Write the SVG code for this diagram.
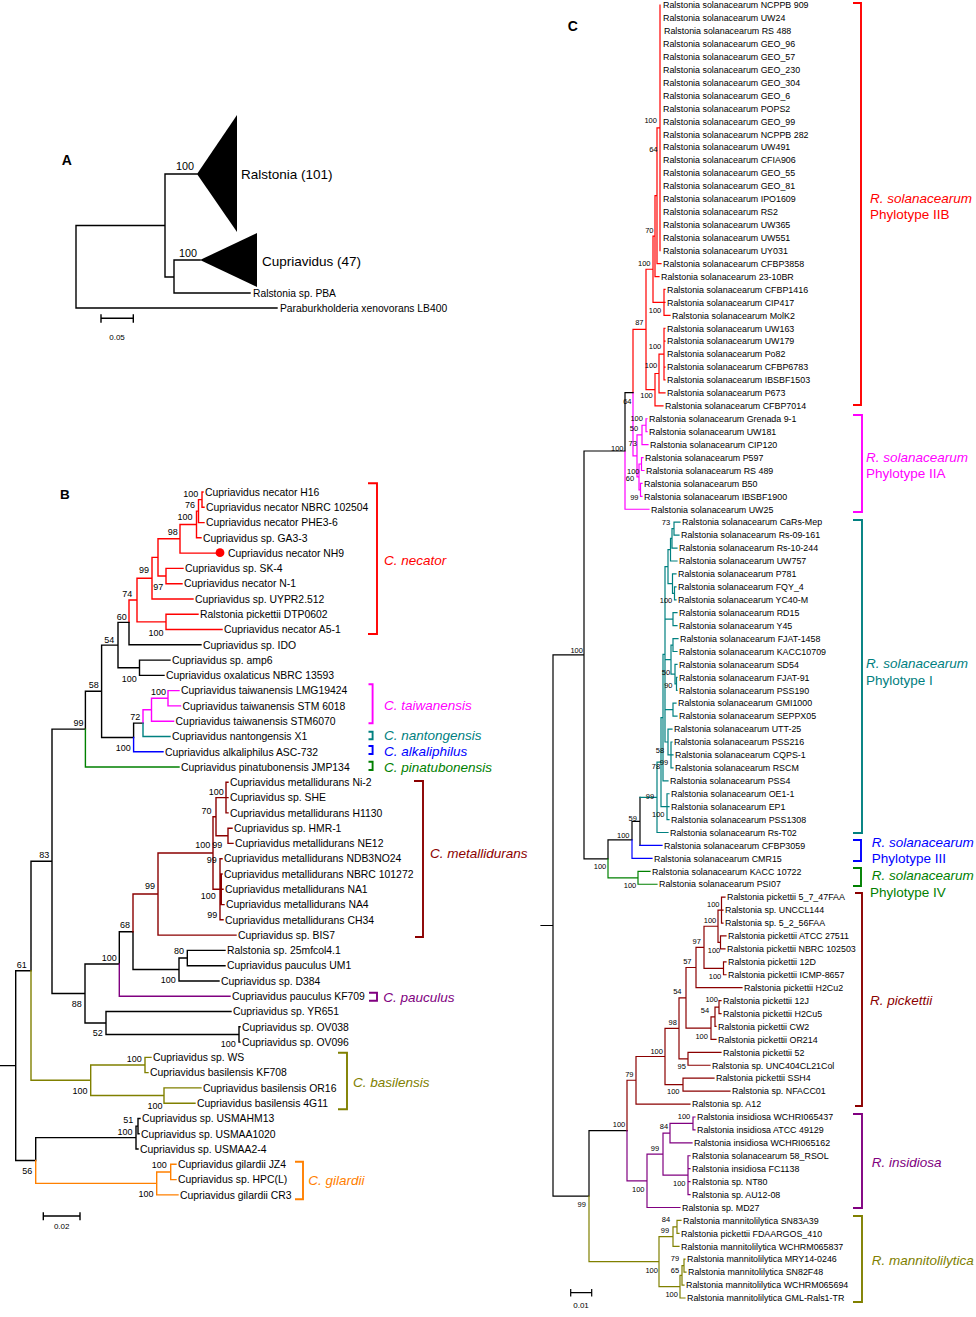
<svg xmlns="http://www.w3.org/2000/svg" width="976" height="1317" viewBox="0 0 976 1317">
<style>
text{font-family:"Liberation Sans",Arial,sans-serif;fill:#000}
.lb text{font-size:10.4px}
.lc text{font-size:8.9px}
.sb text{font-size:9px;text-anchor:middle}
.sc text{font-size:7.5px;text-anchor:middle}
.cl{font-size:13.5px;font-style:italic}
.cc{font-size:13.5px}
.pl{font-size:14px;font-weight:bold}
.e{fill:none;stroke-linecap:square}
.wa{stroke-width:1.4}
.wb{stroke-width:1.4}
.wc{stroke-width:1.2}
.br{fill:none;stroke-width:1.9}
.k{stroke:#000}.r{stroke:#f00}.m{stroke:#f0f}.t{stroke:#008080}.u{stroke:#00f}.g{stroke:#008000}.d{stroke:#8b0000}.p{stroke:#800080}.o{stroke:#808000}.n{stroke:#ff8000}
</style>
<rect width="976" height="1317" fill="#fff"/>

<!-- ================= PANEL A ================= -->
<text class="pl" x="61.7" y="165">A</text>
<g id="connectors">
<g id="connA" class="e wa k">
<path d="M76 225.5V308M76 225.5H165M165 174V277M165 174H197M165 277H174M174 260V293M174 260H200M174 293H250M76 308H277"/>
</g>
<g id="connB">
<path class="e wb r" d="M202 492V507.3M202 492H203M202 507.3H204M198.5 499.65V522.6M198.5 499.65H202M198.5 522.6H204M196.5 511.1V537.8M196.5 511.1H198.5M196.5 537.8H201M180 524.45V553.1M180 524.45H196.5M180 553.1H216M166 568.4V583.7M166 568.4H183M166 583.7H182M158 538.8V576.05M158 538.8H180M158 576.05H166M152 557.4V599M152 557.4H158M152 599H193M166 614.2V629.5M166 614.2H198M166 629.5H222M137 578.2V621.85M137 578.2H152M137 621.85H166M129 600V622.4M129 600H137"/>
<path class="e wb k" d="M129 622.4V644.8M129 644.8H201M118 622.4V667.75M118 622.4H129M118 667.75H139.5M139.5 660.1V675.4M139.5 660.1H170M139.5 675.4H164M133.6 723.1V737.45M133.6 723.1H143M101.6 645.1V737.45M101.6 645.1H118M101.6 737.45H133.6M85.4 691.3V729.15M85.4 691.3H101.6M133 931.8V969.5M133 969.5H179M187.3 950.4V965.7M187.3 950.4H225M187.3 965.7H225M179 958.05V981M179 958.05H187.3M179 981H219M119.3 931.8V964M119.3 931.8H133M239 1026.8V1042.1M239 1026.8H240M239 1042.1H240M106 1011.5V1034.45M106 1011.5H231M106 1034.45H239M85 964V1023M85 964H119.3M85 1023H106M52 729.15V993.5M52 729.15H85.4M52 993.5H85M31 861.3V970.8M31 861.3H52M138 1118.5V1133.8M138 1118.5H140M138 1133.8H139M136 1126.15V1149M136 1126.15H138M136 1149H138M35.7 1137.6V1160.5M35.7 1137.6H136M15.7 970.8V1160.5M15.7 970.8H31M15.7 1160.5H35.7M0 1065.65H15.7"/>
<path class="e wb m" d="M168 690.6V705.9M168 690.6H179M168 705.9H180.5M151.5 698.25V721.2M151.5 698.25H168M151.5 721.2H173.6M143 709.7V723.1M143 709.7H151.5"/>
<path class="e wb t" d="M143 723.1V736.5M143 736.5H170"/>
<path class="e wb u" d="M133.6 737.45V751.8M133.6 751.8H163"/>
<path class="e wb g" d="M85.4 729.15V767M85.4 767H179"/>
<path class="e wb d" d="M226 782.3V812.9M226 782.3H228M226 797.6H228M226 812.9H228M228 828.2V843.4M228 828.2H232M228 843.4H233M216 797.6V835.8M216 797.6H226M216 835.8H228M220 858.7V919.8M221.3 874V904.6M220 858.7H222M220 874H222M220 889.3H223M220 904.6H224M220 919.8H223M213 816.7V889.3M213 816.7H216M213 889.3H220M158 853V935.1M158 853H213M158 935.1H236M133 894.05V931.8M133 894.05H158"/>
<path class="e wb p" d="M119.3 964V996.2M119.3 996.2H230"/>
<path class="e wb o" d="M145 1057.4V1072.6M145 1057.4H151M145 1072.6H148M164 1087.9V1103.2M164 1087.9H201M164 1103.2H195M90.7 1065V1095.55M90.7 1065H145M90.7 1095.55H164M31 970.8V1080.3M31 1080.3H90.7"/>
<path class="e wb n" d="M170.7 1164.3V1179.6M170.7 1164.3H176M170.7 1179.6H176M156.7 1171.95V1194.9M156.7 1171.95H170.7M156.7 1194.9H178M35.7 1160.5V1183.4M35.7 1183.4H156.7"/>
</g>
<g id="connC">
<path class="e wc r" d="M660 5V250.67M657 127.84V263.6M657 127.84H660M657 263.6H661M655 195.72V276.53M655 195.72H657M655 276.53H659M664 289.46V315.32M664 289.46H665M664 302.39H665M664 315.32H670M653 236.13V302.39M653 236.13H655M653 302.39H664M664 328.25V379.97M664 328.25H665M664 341.18H665M664 367.04H665M664 379.97H665M659 354.11V392.9M659 354.11H664M659 392.9H665M655 373.5V405.83M655 373.5H659M655 405.83H663M646 269.26V389.67M646 269.26H653M646 389.67H655M633 329.47V392.7M633 329.47H646"/>
<path class="e wc m" d="M646 418.76V431.69M646 418.76H647M646 431.69H647M642 425.23V444.62M642 425.23H646M642 444.62H648M641.5 457.55V470.48M641.5 457.55H643M641.5 470.48H644M640.5 483.41V496.34M640.5 483.41H642M640.5 496.34H642M639 464.02V489.88M639 464.02H641.5M639 489.88H640.5M637 434.93V476.95M637 434.93H642M637 476.95H639M633 392.7V455.94M633 455.94H637M625 450.99V509.27M625 509.27H649"/>
<path class="e wc k" d="M625 392.7V450.99M625 392.7H633M640 797.31V845.45M632 821.38V839.88M632 821.38H640M608 839.88V858.83M608 839.88H632M584 450.99V858.83M584 450.99H625M584 858.83H608M589 1130.55V1196.1M589 1130.55H627M553 654.91V1196.1M553 654.91H584M553 1196.1H589M541 925.5H553"/>
<path class="e wc t" d="M674 522.2V535.13M674 522.2H680M674 535.13H679M672 528.67V548.06M672 528.67H674M672 548.06H677M670.5 538.36V560.99M670.5 538.36H672M670.5 560.99H677M674.5 586.85V599.78M674.5 586.85H676M674.5 599.78H676M672.5 573.92V593.32M672.5 573.92H676M672.5 593.32H674.5M668 549.68V583.62M668 549.68H670.5M668 583.62H672.5M673 612.71V625.64M673 612.71H677M673 625.64H677M676.5 677.36V690.29M676.5 677.36H677M676.5 690.29H677M675 664.43V683.83M675 664.43H677M675 683.83H676.5M673 638.57V651.5M673 638.57H678M673 651.5H677M671 645.04V674.13M671 645.04H673M671 674.13H675M673 703.22V716.15M673 703.22H676M673 716.15H677M671 742.01V767.87M671 742.01H672M671 754.94H673M671 767.87H673M668 729.08V754.94M668 729.08H672M668 754.94H671M665 566.65V742.01M665 566.65H668M665 619.18H673M665 659.59H671M665 709.69H673M665 742.01H668M667 793.73V819.59M667 793.73H669M667 806.66H669M667 819.59H669M663 654.33V780.8M663 654.33H665M663 780.8H668M661 717.57V806.66M661 717.57H663M661 806.66H667M657 762.1V832.52M657 762.1H661M657 832.52H668M640 797.31H657"/>
<path class="e wc u" d="M640 845.45H662M632 839.88V858.38M632 858.38H652"/>
<path class="e wc g" d="M608 858.83V877.78M608 877.78H638M638 871.31V884.24M638 871.31H650M638 884.24H657"/>
<path class="e wc d" d="M721.5 897.17V923.03M721.5 897.17H725M721.5 910.1H723M721.5 923.03H723M720.5 935.96V948.89M720.5 935.96H726M720.5 948.89H725M718 910.1V942.43M718 910.1H721.5M718 942.43H720.5M723.5 961.82V974.75M723.5 961.82H726M723.5 974.75H726M704 926.27V968.29M704 926.27H718M704 968.29H723.5M696 947.28V987.68M696 947.28H704M696 987.68H742M719 1000.61V1013.54M719 1000.61H721M719 1013.54H721M715 1007.08V1026.47M715 1007.08H719M715 1026.47H716M711 1016.78V1039.4M711 1016.78H715M711 1039.4H716M686 967.48V1028.09M686 967.48H696M686 1028.09H711M688 1052.33V1065.26M688 1052.33H721M688 1065.26H710M679 997.79V1058.8M679 997.79H686M679 1058.8H688M683 1078.19V1091.12M683 1078.19H714M683 1091.12H730M665 1028.3V1084.66M665 1028.3H679M665 1084.66H683M636 1056.48V1104.05M636 1056.48H665M636 1104.05H690M627 1080.27V1130.55M627 1080.27H636"/>
<path class="e wc p" d="M693 1116.98V1129.91M693 1116.98H695M693 1129.91H695M670 1123.45V1142.84M670 1123.45H693M670 1142.84H692M688 1155.77V1194.56M688 1155.77H690M688 1168.7H690M688 1181.63H690M688 1194.56H690M663 1133.15V1175.17M663 1133.15H670M663 1175.17H688M647 1154.16V1207.49M647 1154.16H663M647 1207.49H680M627 1130.55V1180.83M627 1180.83H647"/>
<path class="e wc o" d="M677 1220.42V1233.35M677 1220.42H681M677 1233.35H679M673 1226.89V1246.28M673 1226.89H677M673 1246.28H679M684 1259.21V1272.14M684 1259.21H685M684 1272.14H686M682 1265.68V1285.07M682 1265.68H684M682 1285.07H684M680 1275.38V1298M680 1275.38H682M680 1298H685M659 1236.59V1286.69M659 1236.59H673M659 1286.69H680M589 1196.1V1261.64M589 1261.64H659"/>
</g>
</g>

<!-- Panel A nodes -->
<g id="A-ralstonia"><polygon points="197,174 237,115 237,232" fill="#000"/><text x="241" y="178.5" style="font-size:13.5px">Ralstonia (101)</text></g>
<g id="A-cupriavidus"><polygon points="200,260 257,233 257,287" fill="#000"/><text x="262" y="265.7" style="font-size:13.5px">Cupriavidus (47)</text></g>
<g id="A-pba"><text x="253" y="296.7" style="font-size:10.3px">Ralstonia sp. PBA</text></g>
<g id="A-lb400"><text x="280" y="311.7" style="font-size:10.3px">Paraburkholderia xenovorans LB400</text></g>
<g id="A-support" style="font-size:10.8px;text-anchor:middle"><text x="185" y="170">100</text><text x="188" y="257">100</text></g>
<g id="A-scale"><path class="e wb k" d="M101 318.3H133.3M101 315V322M133.3 315V322"/><text x="117" y="340" style="font-size:8px;text-anchor:middle">0.05</text></g>

<!-- ================= PANEL B ================= -->
<text class="pl" x="60" y="499" style="font-size:13.5px">B</text>
<circle id="B-dot" cx="220" cy="552.7" r="4.4" fill="#f00"/>
<g class="lb">
<g id="b0"><text x="205" y="495.7">Cupriavidus necator H16</text></g>
<g id="b1"><text x="206" y="511">Cupriavidus necator NBRC 102504</text></g>
<g id="b2"><text x="206" y="526.3">Cupriavidus necator PHE3-6</text></g>
<g id="b3"><text x="203" y="541.5">Cupriavidus sp. GA3-3</text></g>
<g id="b4"><text x="228" y="556.8">Cupriavidus necator NH9</text></g>
<g id="b5"><text x="185" y="572.1">Cupriavidus sp. SK-4</text></g>
<g id="b6"><text x="184" y="587.4">Cupriavidus necator N-1</text></g>
<g id="b7"><text x="195" y="602.7">Cupriavidus sp. UYPR2.512</text></g>
<g id="b8"><text x="200" y="617.9">Ralstonia pickettii DTP0602</text></g>
<g id="b9"><text x="224" y="633.2">Cupriavidus necator A5-1</text></g>
<g id="b10"><text x="203" y="648.5">Cupriavidus sp. IDO</text></g>
<g id="b11"><text x="172" y="663.8">Cupriavidus sp. amp6</text></g>
<g id="b12"><text x="166" y="679.1">Cupriavidus oxalaticus NBRC 13593</text></g>
<g id="b13"><text x="181" y="694.3">Cupriavidus taiwanensis LMG19424</text></g>
<g id="b14"><text x="182.5" y="709.6">Cupriavidus taiwanensis STM 6018</text></g>
<g id="b15"><text x="175.6" y="724.9">Cupriavidus taiwanensis STM6070</text></g>
<g id="b16"><text x="172" y="740.2">Cupriavidus nantongensis X1</text></g>
<g id="b17"><text x="165" y="755.5">Cupriavidus alkaliphilus ASC-732</text></g>
<g id="b18"><text x="181" y="770.7">Cupriavidus pinatubonensis JMP134</text></g>
<g id="b19"><text x="230" y="786">Cupriavidus metallidurans Ni-2</text></g>
<g id="b20"><text x="230" y="801.3">Cupriavidus sp. SHE</text></g>
<g id="b21"><text x="230" y="816.6">Cupriavidus metallidurans H1130</text></g>
<g id="b22"><text x="234" y="831.9">Cupriavidus sp. HMR-1</text></g>
<g id="b23"><text x="235" y="847.1">Cupriavidus metallidurans NE12</text></g>
<g id="b24"><text x="224" y="862.4">Cupriavidus metallidurans NDB3NO24</text></g>
<g id="b25"><text x="224" y="877.7">Cupriavidus metallidurans NBRC 101272</text></g>
<g id="b26"><text x="225" y="893">Cupriavidus metallidurans NA1</text></g>
<g id="b27"><text x="226" y="908.3">Cupriavidus metallidurans NA4</text></g>
<g id="b28"><text x="225" y="923.5">Cupriavidus metallidurans CH34</text></g>
<g id="b29"><text x="238" y="938.8">Cupriavidus sp. BIS7</text></g>
<g id="b30"><text x="227" y="954.1">Ralstonia sp. 25mfcol4.1</text></g>
<g id="b31"><text x="227" y="969.4">Cupriavidus pauculus UM1</text></g>
<g id="b32"><text x="221" y="984.7">Cupriavidus sp. D384</text></g>
<g id="b33"><text x="232" y="999.9">Cupriavidus pauculus KF709</text></g>
<g id="b34"><text x="233" y="1015.2">Cupriavidus sp. YR651</text></g>
<g id="b35"><text x="242" y="1030.5">Cupriavidus sp. OV038</text></g>
<g id="b36"><text x="242" y="1045.8">Cupriavidus sp. OV096</text></g>
<g id="b37"><text x="153" y="1061.1">Cupriavidus sp. WS</text></g>
<g id="b38"><text x="150" y="1076.3">Cupriavidus basilensis KF708</text></g>
<g id="b39"><text x="203" y="1091.6">Cupriavidus basilensis OR16</text></g>
<g id="b40"><text x="197" y="1106.9">Cupriavidus basilensis 4G11</text></g>
<g id="b41"><text x="142" y="1122.2">Cupriavidus sp. USMAHM13</text></g>
<g id="b42"><text x="141" y="1137.5">Cupriavidus sp. USMAA1020</text></g>
<g id="b43"><text x="140" y="1152.7">Cupriavidus sp. USMAA2-4</text></g>
<g id="b44"><text x="178" y="1168">Cupriavidus gilardii JZ4</text></g>
<g id="b45"><text x="178" y="1183.3">Cupriavidus sp. HPC(L)</text></g>
<g id="b46"><text x="180" y="1198.6">Cupriavidus gilardii CR3</text></g>
</g>
<g id="B-support" class="sb">
<text x="190.7" y="496.5">100</text><text x="190" y="507.5">76</text><text x="185" y="519.9">100</text><text x="172.7" y="534.9">98</text><text x="144" y="573.2">99</text><text x="158.3" y="589.9">97</text><text x="127.3" y="596.5">74</text><text x="121.7" y="619.9">60</text><text x="156" y="635.9">100</text><text x="109.3" y="642.5">54</text><text x="129.2" y="681.5">100</text><text x="93.7" y="688.2">58</text><text x="158.4" y="694.9">100</text><text x="135.3" y="719.9">72</text><text x="78.5" y="725.9">99</text><text x="123.3" y="750.9">100</text><text x="216.3" y="794.9">100</text><text x="206.6" y="813.9">70</text><text x="202.7" y="848.2">100</text><text x="217.3" y="848.2">99</text><text x="211.7" y="862.5">99</text><text x="150" y="889.2">99</text><text x="208.3" y="899.2">100</text><text x="212.3" y="918.2">99</text><text x="125" y="928.2">68</text><text x="179" y="954.2">80</text><text x="109.3" y="960.5">100</text><text x="21.7" y="967.5">61</text><text x="168.3" y="982.5">100</text><text x="76.7" y="1006.5">88</text><text x="97.7" y="1035.9">52</text><text x="228.3" y="1047.2">100</text><text x="44.3" y="858.2">83</text><text x="134.3" y="1061.5">100</text><text x="80" y="1094.2">100</text><text x="155" y="1109.2">100</text><text x="128.3" y="1122.5">51</text><text x="125" y="1134.9">100</text><text x="159.3" y="1168.2">100</text><text x="27.3" y="1174.2">56</text><text x="146" y="1197.2">100</text>
</g>
<g id="B-clades">
<g id="cl-necator"><path class="br r" d="M368 483.3H377V634H368"/><text class="cl" x="384" y="565" style="fill:#f00">C. necator</text></g>
<g id="cl-taiwanensis"><path class="br m" d="M368.5 684.3H372.6V723.3H368.5"/><text class="cl" x="384" y="710" style="fill:#f0f">C. taiwanensis</text></g>
<g id="cl-nantongensis"><path class="br t" d="M368.5 731.7H372.6V739.3H368.5"/><text class="cl" x="384" y="740" style="fill:#008080">C. nantongensis</text></g>
<g id="cl-alkaliphilus"><path class="br u" d="M368.5 746H372.6V754H368.5"/><text class="cl" x="384" y="756" style="fill:#00f">C. alkaliphilus</text></g>
<g id="cl-pinatubonensis"><path class="br g" d="M368.5 761.7H372.6V770H368.5"/><text class="cl" x="384" y="771.5" style="fill:#008000">C. pinatubonensis</text></g>
<g id="cl-metallidurans"><path class="br d" d="M414 781H423V937H415"/><text class="cl" x="430" y="858" style="fill:#8b0000">C. metallidurans</text></g>
<g id="cl-pauculus"><path class="br p" d="M369 992.7H377V1000.7H369"/><text class="cl" x="383.3" y="1001.5" style="fill:#800080">C. pauculus</text></g>
<g id="cl-basilensis"><path class="br o" d="M338 1052.7H347V1109.3H338"/><text class="cl" x="353" y="1087" style="fill:#808000">C. basilensis</text></g>
<g id="cl-gilardii"><path class="br n" d="M295 1161.7H303V1199.3H295"/><text class="cl" x="308.3" y="1185" style="fill:#ff8000">C. gilardii</text></g>
</g>
<g id="B-scale"><path class="e wb k" d="M43.3 1216H80M43.3 1213V1219.5M80 1213V1219.5"/><text x="61.7" y="1229" style="font-size:8px;text-anchor:middle">0.02</text></g>

<!-- ================= PANEL C ================= -->
<text class="pl" x="567.7" y="30.7">C</text>
<g class="lc">
<g id="c1"><text x="663" y="8.2">Ralstonia solanacearum NCPPB 909</text></g>
<g id="c2"><text x="663" y="21.1">Ralstonia solanacearum UW24</text></g>
<g id="c3"><text x="664" y="34.1">Ralstonia solanacearum RS 488</text></g>
<g id="c4"><text x="663" y="47">Ralstonia solanacearum GEO_96</text></g>
<g id="c5"><text x="663" y="59.9">Ralstonia solanacearum GEO_57</text></g>
<g id="c6"><text x="663" y="72.9">Ralstonia solanacearum GEO_230</text></g>
<g id="c7"><text x="663" y="85.8">Ralstonia solanacearum GEO_304</text></g>
<g id="c8"><text x="663" y="98.7">Ralstonia solanacearum GEO_6</text></g>
<g id="c9"><text x="663" y="111.6">Ralstonia solanacearum POPS2</text></g>
<g id="c10"><text x="663" y="124.6">Ralstonia solanacearum GEO_99</text></g>
<g id="c11"><text x="663" y="137.5">Ralstonia solanacearum NCPPB 282</text></g>
<g id="c12"><text x="663" y="150.4">Ralstonia solanacearum UW491</text></g>
<g id="c13"><text x="663" y="163.4">Ralstonia solanacearum CFIA906</text></g>
<g id="c14"><text x="663" y="176.3">Ralstonia solanacearum GEO_55</text></g>
<g id="c15"><text x="663" y="189.2">Ralstonia solanacearum GEO_81</text></g>
<g id="c16"><text x="663" y="202.2">Ralstonia solanacearum IPO1609</text></g>
<g id="c17"><text x="663" y="215.1">Ralstonia solanacearum RS2</text></g>
<g id="c18"><text x="663" y="228">Ralstonia solanacearum UW365</text></g>
<g id="c19"><text x="663" y="240.9">Ralstonia solanacearum UW551</text></g>
<g id="c20"><text x="663" y="253.9">Ralstonia solanacearum UY031</text></g>
<g id="c21"><text x="663" y="266.8">Ralstonia solanacearum CFBP3858</text></g>
<g id="c22"><text x="661" y="279.7">Ralstonia solanacearum 23-10BR</text></g>
<g id="c23"><text x="667" y="292.7">Ralstonia solanacearum CFBP1416</text></g>
<g id="c24"><text x="667" y="305.6">Ralstonia solanacearum CIP417</text></g>
<g id="c25"><text x="672" y="318.5">Ralstonia solanacearum MolK2</text></g>
<g id="c26"><text x="667" y="331.5">Ralstonia solanacearum UW163</text></g>
<g id="c27"><text x="667" y="344.4">Ralstonia solanacearum UW179</text></g>
<g id="c28"><text x="667" y="357.3">Ralstonia solanacearum Po82</text></g>
<g id="c29"><text x="667" y="370.2">Ralstonia solanacearum CFBP6783</text></g>
<g id="c30"><text x="667" y="383.2">Ralstonia solanacearum IBSBF1503</text></g>
<g id="c31"><text x="667" y="396.1">Ralstonia solanacearum P673</text></g>
<g id="c32"><text x="665" y="409">Ralstonia solanacearum CFBP7014</text></g>
<g id="c33"><text x="649" y="422">Ralstonia solanacearum Grenada 9-1</text></g>
<g id="c34"><text x="649" y="434.9">Ralstonia solanacearum UW181</text></g>
<g id="c35"><text x="650" y="447.8">Ralstonia solanacearum CIP120</text></g>
<g id="c36"><text x="645" y="460.8">Ralstonia solanacearum P597</text></g>
<g id="c37"><text x="646" y="473.7">Ralstonia solanacearum RS 489</text></g>
<g id="c38"><text x="644" y="486.6">Ralstonia solanacearum B50</text></g>
<g id="c39"><text x="644" y="499.5">Ralstonia solanacearum IBSBF1900</text></g>
<g id="c40"><text x="651" y="512.5">Ralstonia solanacearum UW25</text></g>
<g id="c41"><text x="682" y="525.4">Ralstonia solanacearum CaRs-Mep</text></g>
<g id="c42"><text x="681" y="538.3">Ralstonia solanacearum Rs-09-161</text></g>
<g id="c43"><text x="679" y="551.3">Ralstonia solanacearum Rs-10-244</text></g>
<g id="c44"><text x="679" y="564.2">Ralstonia solanacearum UW757</text></g>
<g id="c45"><text x="678" y="577.1">Ralstonia solanacearum P781</text></g>
<g id="c46"><text x="678" y="590.1">Ralstonia solanacearum FQY_4</text></g>
<g id="c47"><text x="678" y="603">Ralstonia solanacearum YC40-M</text></g>
<g id="c48"><text x="679" y="615.9">Ralstonia solanacearum RD15</text></g>
<g id="c49"><text x="679" y="628.8">Ralstonia solanacearum Y45</text></g>
<g id="c50"><text x="680" y="641.8">Ralstonia solanacearum FJAT-1458</text></g>
<g id="c51"><text x="679" y="654.7">Ralstonia solanacearum KACC10709</text></g>
<g id="c52"><text x="679" y="667.6">Ralstonia solanacearum SD54</text></g>
<g id="c53"><text x="679" y="680.6">Ralstonia solanacearum FJAT-91</text></g>
<g id="c54"><text x="679" y="693.5">Ralstonia solanacearum PSS190</text></g>
<g id="c55"><text x="678" y="706.4">Ralstonia solanacearum GMI1000</text></g>
<g id="c56"><text x="679" y="719.4">Ralstonia solanacearum SEPPX05</text></g>
<g id="c57"><text x="674" y="732.3">Ralstonia solanacearum UTT-25</text></g>
<g id="c58"><text x="674" y="745.2">Ralstonia solanacearum PSS216</text></g>
<g id="c59"><text x="675" y="758.1">Ralstonia solanacearum CQPS-1</text></g>
<g id="c60"><text x="675" y="771.1">Ralstonia solanacearum RSCM</text></g>
<g id="c61"><text x="670" y="784">Ralstonia solanacearum PSS4</text></g>
<g id="c62"><text x="671" y="796.9">Ralstonia solanacearum OE1-1</text></g>
<g id="c63"><text x="671" y="809.9">Ralstonia solanacearum EP1</text></g>
<g id="c64"><text x="671" y="822.8">Ralstonia solanacearum PSS1308</text></g>
<g id="c65"><text x="670" y="835.7">Ralstonia solanacearum Rs-T02</text></g>
<g id="c66"><text x="664" y="848.7">Ralstonia solanacearum CFBP3059</text></g>
<g id="c67"><text x="654" y="861.6">Ralstonia solanacearum CMR15</text></g>
<g id="c68"><text x="652" y="874.5">Ralstonia solanacearum KACC 10722</text></g>
<g id="c69"><text x="659" y="887.4">Ralstonia solanacearum PSI07</text></g>
<g id="c70"><text x="727" y="900.4">Ralstonia pickettii 5_7_47FAA</text></g>
<g id="c71"><text x="725" y="913.3">Ralstonia sp. UNCCL144</text></g>
<g id="c72"><text x="725" y="926.2">Ralstonia sp. 5_2_56FAA</text></g>
<g id="c73"><text x="728" y="939.2">Ralstonia pickettii ATCC 27511</text></g>
<g id="c74"><text x="727" y="952.1">Ralstonia pickettii NBRC 102503</text></g>
<g id="c75"><text x="728" y="965">Ralstonia pickettii 12D</text></g>
<g id="c76"><text x="728" y="978">Ralstonia pickettii ICMP-8657</text></g>
<g id="c77"><text x="744" y="990.9">Ralstonia pickettii H2Cu2</text></g>
<g id="c78"><text x="723" y="1003.8">Ralstonia pickettii 12J</text></g>
<g id="c79"><text x="723" y="1016.7">Ralstonia pickettii H2Cu5</text></g>
<g id="c80"><text x="718" y="1029.7">Ralstonia pickettii CW2</text></g>
<g id="c81"><text x="718" y="1042.6">Ralstonia pickettii OR214</text></g>
<g id="c82"><text x="723" y="1055.5">Ralstonia pickettii 52</text></g>
<g id="c83"><text x="712" y="1068.5">Ralstonia sp. UNC404CL21Col</text></g>
<g id="c84"><text x="716" y="1081.4">Ralstonia pickettii SSH4</text></g>
<g id="c85"><text x="732" y="1094.3">Ralstonia sp. NFACC01</text></g>
<g id="c86"><text x="692" y="1107.3">Ralstonia sp. A12</text></g>
<g id="c87"><text x="697" y="1120.2">Ralstonia insidiosa WCHRI065437</text></g>
<g id="c88"><text x="697" y="1133.1">Ralstonia insidiosa ATCC 49129</text></g>
<g id="c89"><text x="694" y="1146">Ralstonia insidiosa WCHRI065162</text></g>
<g id="c90"><text x="692" y="1159">Ralstonia solanacearum 58_RSOL</text></g>
<g id="c91"><text x="692" y="1171.9">Ralstonia insidiosa FC1138</text></g>
<g id="c92"><text x="692" y="1184.8">Ralstonia sp. NT80</text></g>
<g id="c93"><text x="692" y="1197.8">Ralstonia sp. AU12-08</text></g>
<g id="c94"><text x="682" y="1210.7">Ralstonia sp. MD27</text></g>
<g id="c95"><text x="683" y="1223.6">Ralstonia mannitolilytica SN83A39</text></g>
<g id="c96"><text x="681" y="1236.6">Ralstonia pickettii FDAARGOS_410</text></g>
<g id="c97"><text x="681" y="1249.5">Ralstonia mannitolilytica WCHRM065837</text></g>
<g id="c98"><text x="687" y="1262.4">Ralstonia mannitolilytica MRY14-0246</text></g>
<g id="c99"><text x="688" y="1275.3">Ralstonia mannitolilytica SN82F48</text></g>
<g id="c100"><text x="686" y="1288.3">Ralstonia mannitolilytica WCHRM065694</text></g>
<g id="c101"><text x="687" y="1301.2">Ralstonia mannitolilytica GML-Rals1-TR</text></g>
</g>
<g id="C-support" class="sc">
<text x="650.7" y="123.4">100</text><text x="653.3" y="152">64</text><text x="649.3" y="232.7">70</text><text x="644.3" y="266">100</text><text x="655" y="313.4">100</text><text x="639.3" y="325.4">87</text><text x="655" y="349.4">100</text><text x="651" y="367.7">100</text><text x="646.5" y="397.7">100</text><text x="627.3" y="404.4">64</text><text x="636.7" y="421">100</text><text x="634" y="431">50</text><text x="632.7" y="446">73</text><text x="617.3" y="451">100</text><text x="633.3" y="474.4">100</text><text x="630" y="481">60</text><text x="634.3" y="500">99</text><text x="666" y="525.4">73</text><text x="666" y="603.4">100</text><text x="576.7" y="653.4">100</text><text x="666" y="675">50</text><text x="668.3" y="687.7">90</text><text x="660" y="752.7">58</text><text x="664" y="765.4">99</text><text x="656" y="769.4">78</text><text x="650" y="798.7">99</text><text x="658.3" y="816.7">100</text><text x="632.7" y="821">59</text><text x="623.3" y="837.7">100</text><text x="600" y="869.4">100</text><text x="630" y="887.7">100</text><text x="713.3" y="906.7">100</text><text x="710" y="923.4">100</text><text x="696.7" y="943.7">97</text><text x="714" y="953.4">100</text><text x="687.3" y="964.4">57</text><text x="715" y="979.4">100</text><text x="677.3" y="994.4">54</text><text x="711.7" y="1001.7">100</text><text x="705" y="1012.7">54</text><text x="672.7" y="1025.4">98</text><text x="701.7" y="1038.7">100</text><text x="656.7" y="1054.4">100</text><text x="681.7" y="1069.4">95</text><text x="629.3" y="1077">79</text><text x="673.3" y="1094.4">100</text><text x="619" y="1127">100</text><text x="684" y="1119.4">100</text><text x="664" y="1129.4">84</text><text x="655" y="1151">99</text><text x="679.3" y="1186">100</text><text x="638.3" y="1192">100</text><text x="581.7" y="1206.7">99</text><text x="666" y="1222">84</text><text x="665" y="1233.4">99</text><text x="675" y="1261">79</text><text x="675" y="1272.7">65</text><text x="651.7" y="1272.7">100</text><text x="671.7" y="1296.7">100</text>
</g>
<g id="C-clades">
<g id="cl-IIB"><path class="br r" d="M853 3H861V405H853"/><text class="cc" x="870" y="203" style="fill:#f00"><tspan font-style="italic">R. solanacearum</tspan><tspan x="870" y="218.5">Phylotype IIB</tspan></text></g>
<g id="cl-IIA"><path class="br m" d="M853 415H862V512H853"/><text class="cc" x="866" y="461.5" style="fill:#f0f"><tspan font-style="italic">R. solanacearum</tspan><tspan x="866" y="478">Phylotype IIA</tspan></text></g>
<g id="cl-I"><path class="br t" d="M853 520H862V833H853"/><text class="cc" x="866" y="668" style="fill:#008080"><tspan font-style="italic">R. solanacearum</tspan><tspan x="866" y="685">Phylotype I</tspan></text></g>
<g id="cl-III"><path class="br u" d="M853 840H861V861H853"/><text class="cc" x="871.7" y="846.5" style="fill:#00f"><tspan font-style="italic">R. solanacearum</tspan><tspan x="871.7" y="863">Phylotype III</tspan></text></g>
<g id="cl-IV"><path class="br g" d="M853 868H861V886H853"/><text class="cc" x="871.7" y="880" style="fill:#008000"><tspan font-style="italic">R. solanacearum</tspan><tspan x="870" y="896.5">Phylotype IV</tspan></text></g>
<g id="cl-pickettii"><path class="br d" d="M855 893H862V1106H855"/><text class="cc" x="870" y="1005" style="fill:#8b0000;font-style:italic">R. pickettii</text></g>
<g id="cl-insidiosa"><path class="br p" d="M853 1114H862V1208H853"/><text class="cc" x="871.7" y="1166.5" style="fill:#800080;font-style:italic">R. insidiosa</text></g>
<g id="cl-mannitolilytica"><path class="br o" d="M853 1216H862V1302H853"/><text class="cc" x="871.7" y="1264.5" style="fill:#808000;font-style:italic">R. mannitolilytica</text></g>
</g>
<g id="C-scale"><path class="e wc k" d="M570.7 1292.7H591.7M570.7 1289.5V1296M591.7 1289.5V1296"/><text x="581" y="1308" style="font-size:8px;text-anchor:middle">0.01</text></g>
</svg>
